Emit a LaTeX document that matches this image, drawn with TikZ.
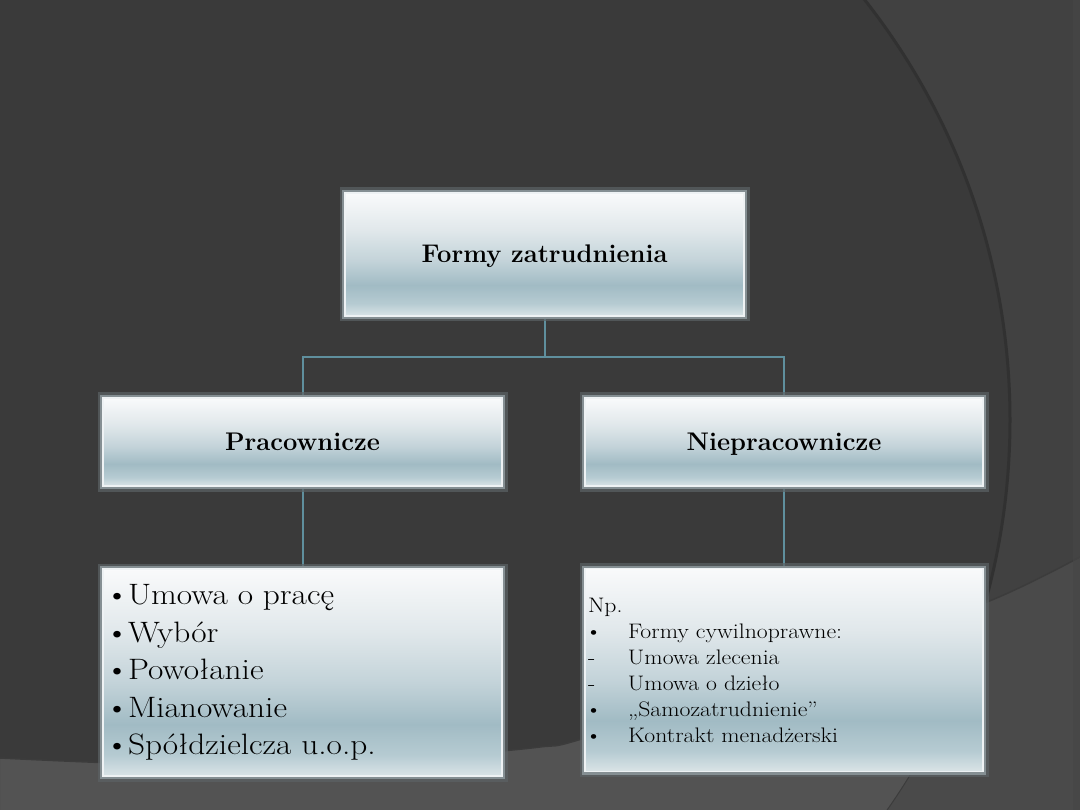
\documentclass[tikz,border=0pt]{standalone}
\usepackage{fontspec}
\usetikzlibrary{calc}
\pgfdeclarelayer{bg}
\pgfdeclarelayer{conn}
\pgfsetlayers{bg,conn,main}

\newfontfamily\fzWide[FakeStretch=1.13]{Latin Modern Roman}

\definecolor{bgA}{HTML}{3A3A3A}
\definecolor{bgOut}{HTML}{414141}
\definecolor{botIn}{HTML}{535353}
\definecolor{botOut}{HTML}{4A4A4A}
\definecolor{arcCol}{HTML}{313131}
\definecolor{edgeCol}{HTML}{3C3C3C}
\definecolor{stripCol}{HTML}{464646}
\definecolor{connCol}{HTML}{5F8F9D}
\definecolor{glowA}{HTML}{5C6265}
\definecolor{glowB}{HTML}{858F93}
\definecolor{rimCol}{HTML}{EEF2F4}
\definecolor{shA}{HTML}{DAE4E7}
\definecolor{shB}{HTML}{B6CBD2}
\definecolor{shC}{HTML}{A1BBC4}
\definecolor{shD}{HTML}{C3D3D9}
\definecolor{shE}{HTML}{E1E8EB}
\definecolor{shF}{HTML}{F9FAFB}

\pgfdeclareverticalshading{boxshade}{100bp}{color(0bp)=(shA); color(25bp)=(shA); color(30bp)=(shB); color(37.5bp)=(shC); color(47.5bp)=(shD); color(60bp)=(shE); color(75bp)=(shF); color(100bp)=(shF)}

\newcommand{\fzTitle}{\fontsize{25.5}{30}\selectfont\bfseries}
\newcommand{\fzList}{\fzWide\fontsize{29.5}{37.5}\selectfont}
\newcommand{\fzSmall}{\fzWide\fontsize{21}{26}\selectfont}
\newcommand{\fzB}{\hspace*{-2pt}\textbullet\hspace{-1pt}}

\tikzset{
  cbox/.style={rectangle, inner sep=0pt, outer sep=0pt, shading=boxshade,
    draw=rimCol, line width=1.2pt,
    preaction={draw=glowA, line width=11pt, opacity=0.7},
    preaction={draw=glowB, line width=6pt},
    text=black},
  headbox/.style={cbox, font=\fzTitle, text height=20pt, text depth=4pt},
  connline/.style={draw=connCol, line width=2pt}
}

\begin{document}
\begin{tikzpicture}[x=1pt,y=-1pt]
\useasboundingbox (0,0) rectangle (1080,810);

\begin{pgfonlayer}{bg}
  \begin{scope}
    \clip (0,0) rectangle (1080,810);
    \fill[bgA] (0,0) rectangle (1080,810);
    \fill[bgOut, even odd rule] (0,0) rectangle (1080,810) (330,420) circle[radius=680];
    \fill[botIn] plot[smooth] coordinates {(0,758) (150,764) (300,762) (450,755) (540,747) (585,738) (800,668) (987,602) (1080,557)} -- (1080,810) -- (0,810) -- cycle;
    \begin{scope}
      \clip plot[smooth] coordinates {(0,758) (150,764) (300,762) (450,755) (540,747) (585,738) (800,668) (987,602) (1080,557)} -- (1080,810) -- (0,810) -- cycle;
      \fill[botOut, even odd rule] (0,0) rectangle (1080,810) (330,420) circle[radius=680];
      \draw[edgeCol, line width=1pt] (330,420) circle[radius=680];
    \end{scope}
    \begin{scope}
      \clip plot[smooth] coordinates {(0,758) (150,764) (300,762) (450,755) (540,747) (585,738) (800,668) (987,602) (1080,557)} -- (1080,0) -- (0,0) -- cycle;
      \draw[arcCol, line width=3pt] (330,420) circle[radius=680];
    \end{scope}
    \draw[edgeCol, line width=1.5pt] plot[smooth] coordinates {(0,758) (150,764) (300,762) (450,755) (540,747) (585,738) (800,668) (987,602) (1080,557)};
    \fill[stripCol, opacity=0.6] (1073,0) rectangle (1080,810);
  \end{scope}
\end{pgfonlayer}

\node[headbox, minimum width=399pt, minimum height=123pt, text height=21pt] (top) at (544.5,254.5) {Formy zatrudnienia};
\node[headbox, minimum width=399pt, minimum height=88pt] (prac) at (302.5,442) {Pracownicze};
\node[headbox, minimum width=398pt, minimum height=88pt] (niep) at (784,442) {Niepracownicze};

\node[cbox, minimum width=399pt, minimum height=207pt, text width=391pt, align=left, font=\fzList] (lst1) at (302.5,672.5)
  {\fzB Umowa o pracę\\ \fzB Wybór\\ \fzB Powołanie\\ \fzB Mianowanie\\ \fzB Spółdzielcza u.o.p.};

\node[cbox, minimum width=398pt, minimum height=203pt, text width=392pt, align=left, font=\fzSmall] (lst2) at (784,670)
  {Np.\\
   \hspace*{-3pt}\makebox[43pt][l]{\textbullet}Formy cywilnoprawne:\\
   \makebox[40pt][l]{-}Umowa zlecenia\\
   \makebox[40pt][l]{-}Umowa o dzieło\\
   \hspace*{-3pt}\makebox[43pt][l]{\textbullet}„Samozatrudnienie”\\
   \hspace*{-3pt}\makebox[43pt][l]{\textbullet}Kontrakt menadżerski};

\coordinate (mid) at (544.5,357);
\begin{pgfonlayer}{conn}
  \draw[connline] (top.south) -- (mid) -| (prac.north);
  \draw[connline] (mid) -| (niep.north);
  \draw[connline] (prac.south) -- (lst1.north);
  \draw[connline] (niep.south) -- (lst2.north);
\end{pgfonlayer}
\end{tikzpicture}
\end{document}
